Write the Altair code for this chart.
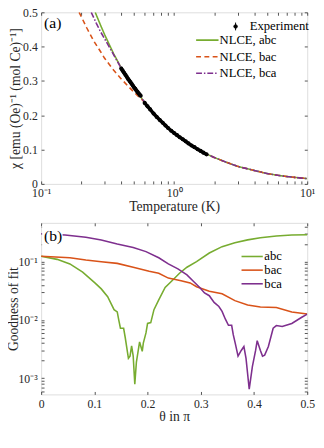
import altair as alt
import pandas as pd

# ---------------- Panel (a) data ----------------
tail_T = [0.6, 0.7, 0.8, 0.9, 1.0, 1.2, 1.5, 1.8, 2.0, 2.5, 3.0, 4.0, 5.0, 6.0, 7.0, 8.0, 10.0]
tail_chi = [0.238, 0.207, 0.183, 0.164, 0.149, 0.125, 0.101, 0.085, 0.077, 0.062, 0.051, 0.039, 0.030, 0.025, 0.0215, 0.019, 0.0153]

abc_T = [0.255, 0.28, 0.30, 0.35, 0.40, 0.45, 0.50]
abc_chi = [0.50, 0.462, 0.435, 0.380, 0.338, 0.305, 0.278]
bac_T = [0.193, 0.22, 0.25, 0.28, 0.30, 0.35, 0.40, 0.45, 0.50]
bac_chi = [0.50, 0.455, 0.415, 0.385, 0.366, 0.332, 0.306, 0.285, 0.267]
bca_T = [0.238, 0.26, 0.28, 0.30, 0.35, 0.40, 0.45, 0.50]
bca_chi = [0.50, 0.468, 0.443, 0.423, 0.377, 0.337, 0.305, 0.278]

exp_T = [0.40, 0.41, 0.42, 0.43, 0.44, 0.45, 0.46, 0.47, 0.48, 0.49, 0.50, 0.51, 0.52, 0.53,
         0.54, 0.55, 0.56, 0.60, 0.63, 0.66, 0.70, 0.74, 0.78, 0.82, 0.86, 0.90, 0.95, 1.00,
         1.05, 1.10, 1.16, 1.22, 1.28, 1.35, 1.42, 1.50, 1.58, 1.66, 1.75]
exp_chi = [0.336, 0.330, 0.324, 0.318, 0.312, 0.306, 0.301, 0.296, 0.291, 0.286, 0.281, 0.277,
           0.272, 0.268, 0.264, 0.260, 0.257, 0.236, 0.226, 0.217, 0.205, 0.195, 0.186, 0.178,
           0.170, 0.163, 0.155, 0.148, 0.142, 0.136, 0.130, 0.124, 0.118, 0.112, 0.107, 0.101,
           0.096, 0.091, 0.086]
exp_err = [0.007, 0.007, 0.007, 0.007, 0.007, 0.006, 0.006, 0.006, 0.006, 0.006, 0.006, 0.006,
           0.006, 0.006, 0.006, 0.006, 0.006, 0.005, 0.005, 0.005, 0.005, 0.005, 0.005, 0.004,
           0.004, 0.004, 0.004, 0.004, 0.004, 0.004, 0.004, 0.004, 0.004, 0.003, 0.003, 0.003,
           0.003, 0.003, 0.003]
exp_run = ["low"] * 17 + ["high"] * 22

series_a = ["NLCE, abc", "NLCE, bac", "NLCE, bca"]

# ---------------- Panel (b) data ----------------
abc_theta = [0.0, 0.03, 0.054, 0.078, 0.101, 0.113, 0.125, 0.137, 0.143, 0.146, 0.149, 0.155,
             0.158, 0.164, 0.167, 0.170, 0.173, 0.176, 0.179, 0.185, 0.190, 0.192, 0.197, 0.200,
             0.206, 0.212, 0.221, 0.233, 0.245, 0.260, 0.274, 0.292, 0.316, 0.340, 0.364, 0.388,
             0.412, 0.442, 0.471, 0.50]
abc_fit = [0.123, 0.109, 0.091, 0.066, 0.043, 0.034, 0.025, 0.015, 0.0137, 0.0098, 0.0072, 0.0072,
           0.005, 0.0022, 0.0024, 0.0036, 0.0024, 0.00079, 0.0019, 0.0042, 0.0029, 0.004, 0.006,
           0.0087, 0.009, 0.015, 0.022, 0.036, 0.046, 0.063, 0.080, 0.100, 0.140, 0.180, 0.210,
           0.235, 0.255, 0.275, 0.285, 0.287]
bac_theta = [0.0, 0.054, 0.084, 0.113, 0.143, 0.173, 0.203, 0.221, 0.239, 0.263, 0.280, 0.292,
             0.316, 0.340, 0.364, 0.388, 0.412, 0.442, 0.471, 0.50]
bac_fit = [0.123, 0.116, 0.106, 0.099, 0.093, 0.080, 0.068, 0.063, 0.052, 0.047, 0.043, 0.037,
           0.031, 0.028, 0.0214, 0.018, 0.0167, 0.0163, 0.0137, 0.0126]
bca_theta = [0.0, 0.045, 0.084, 0.113, 0.143, 0.173, 0.197, 0.221, 0.239, 0.257, 0.274, 0.286,
             0.298, 0.307, 0.316, 0.325, 0.334, 0.340, 0.346, 0.352, 0.358, 0.361, 0.365, 0.370,
             0.376, 0.381, 0.385, 0.391, 0.397, 0.403, 0.406, 0.412, 0.416, 0.420, 0.427, 0.436,
             0.442, 0.453, 0.471, 0.489, 0.50]
bca_fit = [0.30, 0.285, 0.26, 0.235, 0.20, 0.174, 0.148, 0.116, 0.091, 0.075, 0.059, 0.046,
           0.036, 0.029, 0.026, 0.020, 0.017, 0.014, 0.0104, 0.0081, 0.0081, 0.0056, 0.0039,
           0.0024, 0.003, 0.0035, 0.0022, 0.00065, 0.0016, 0.003, 0.0044, 0.003, 0.0024, 0.0025,
           0.0035, 0.0072, 0.008, 0.0077, 0.0087, 0.011, 0.0126]

series_b = ["abc", "bac", "bca"]

colors = ["#77AC30", "#D95319", "#7E2F8E"]
FONT = "Liberation Serif"
INK = "#262626"
W, H1, H2 = 273, 176, 176

x_ticks_a = [0.1, 0.2, 0.3, 0.4, 0.5, 0.6, 0.7, 0.8, 0.9, 1, 2, 3, 4, 5, 6, 7, 8, 9, 10]
y_ticks_a = [0, 0.1, 0.2, 0.3, 0.4, 0.5]
x_ticks_b = [0, 0.1, 0.2, 0.3, 0.4, 0.5]
y_ticks_b = [0.0006, 0.0007, 0.0008, 0.0009, 0.001, 0.002, 0.003, 0.004, 0.005, 0.006, 0.007,
             0.008, 0.009, 0.01, 0.02, 0.03, 0.04, 0.05, 0.06, 0.07, 0.08, 0.09, 0.1, 0.2, 0.3, 0.4]

# ---------------- build tables ----------------
rows = []
for name, Ts, cs in [(series_a[0], abc_T, abc_chi), (series_a[1], bac_T, bac_chi), (series_a[2], bca_T, bca_chi)]:
    for t, c in zip(Ts + tail_T, cs + tail_chi):
        rows.append({"T": t, "chi": c, "series": name})
df_a = pd.DataFrame(rows)
df_exp = pd.DataFrame({"T": exp_T, "chi": exp_chi, "err": exp_err, "run": exp_run, "src": "Experiment"})

rows = []
for name, th, fv in [(series_b[0], abc_theta, abc_fit), (series_b[1], bac_theta, bac_fit), (series_b[2], bca_theta, bca_fit)]:
    for t, f in zip(th, fv):
        rows.append({"theta": t, "fit": f, "series2": name})
df_b = pd.DataFrame(rows)

STROKE_SYM = "M-2.3,0H2.3"
ERR_SYM = "M0,-1V1M-0.45,0A0.45,0.45,0,1,1,0.45,0A0.45,0.45,0,1,1,-0.45,0"


def inward(orient, values, label_expr=None, title=None, labels=True, title_pad=0):
    kw = dict(orient=orient, values=values, tickSize=3, offset=-3, domain=False,
              tickColor=INK, tickWidth=0.8, grid=False, labels=labels, labelFlush=False,
              labelOverlap=False, labelFont=FONT, labelFontSize=12, labelColor=INK,
              labelPadding=4, titleFont=FONT, titleFontSize=14, titleFontWeight="normal",
              titleColor=INK, titlePadding=title_pad, minExtent=0)
    if label_expr is not None:
        kw["labelExpr"] = label_expr
    kw["title"] = title
    return alt.Axis(**kw)


def line_legend(x, y, size, font, rowpad):
    return alt.Legend(orient="none", legendX=x, legendY=y, title=None,
                      symbolType=STROKE_SYM, symbolSize=size, symbolStrokeWidth=1.6,
                      labelFont=FONT, labelFontSize=font, labelColor="black",
                      labelOffset=6, rowPadding=rowpad, padding=0)


xs_a = alt.Scale(type="log", domain=[0.1, 10], nice=False)
ys_a = alt.Scale(domain=[0, 0.5], nice=False)
xlab_a = "datum.value == 0.1 ? '10⁻¹' : datum.value == 1 ? '10⁰' : datum.value == 10 ? '10¹' : ''"
ylab_a = "datum.value == 0 ? '0' : format(datum.value, '.1f')"

lines_a = alt.Chart(df_a).mark_line(clip=True, strokeWidth=1.6).encode(
    x=alt.X("T:Q", scale=xs_a, axis=inward("bottom", x_ticks_a, xlab_a, "Temperature (K)", title_pad=1)),
    y=alt.Y("chi:Q", scale=ys_a, axis=inward("left", y_ticks_a, ylab_a, "χ [emu (Oe)⁻¹ (mol Ce)⁻¹]", title_pad=0)),
    color=alt.Color("series:N", scale=alt.Scale(domain=series_a, range=colors),
                    legend=line_legend(164, 22, 100, 13, 3)),
    strokeDash=alt.StrokeDash("series:N", scale=alt.Scale(domain=series_a, range=[[1, 0], [5, 3.5], [6, 2, 1.5, 2]]),
                              legend=line_legend(164, 22, 100, 13, 3)),
    order=alt.Order("T:Q"),
)
frame_a = alt.Chart(df_exp).mark_point(opacity=0).encode(
    x=alt.X("T:Q", scale=xs_a, axis=inward("top", x_ticks_a, labels=False)),
    y=alt.Y("chi:Q", scale=ys_a, axis=inward("right", y_ticks_a, labels=False)),
)
errs = alt.Chart(df_exp).transform_calculate(
    lo="datum.chi - datum.err", hi="datum.chi + datum.err"
).mark_rule(color="#8c8c8c", strokeWidth=2).encode(
    x=alt.X("T:Q", scale=xs_a, axis=None),
    y=alt.Y("lo:Q", scale=ys_a, axis=None),
    y2="hi:Q",
)
band = alt.Chart(df_exp).mark_line(color="black", strokeWidth=3.5, clip=True).encode(
    x=alt.X("T:Q", scale=xs_a, axis=None),
    y=alt.Y("chi:Q", scale=ys_a, axis=None),
    detail="run:N",
    order=alt.Order("T:Q"),
)
pts = alt.Chart(df_exp).mark_circle(size=18, opacity=1).encode(
    x=alt.X("T:Q", scale=xs_a, axis=None),
    y=alt.Y("chi:Q", scale=ys_a, axis=None),
    fill=alt.Fill("src:N", scale=alt.Scale(domain=["Experiment"], range=["black"]),
                  legend=alt.Legend(orient="none", legendX=193, legendY=8, title=None,
                                    symbolType=ERR_SYM, symbolSize=64, symbolFillColor="black",
                                    symbolStrokeColor="black", symbolStrokeWidth=1,
                                    labelFont=FONT, labelFontSize=13, labelColor="black",
                                    labelOffset=8, padding=0)),
)
lab_a = alt.Chart(pd.DataFrame({"t": ["(a)"]})).mark_text(
    font=FONT, fontSize=16, align="left", baseline="middle", color="black"
).encode(text="t:N", x=alt.value(3), y=alt.value(11))

panel_a = alt.layer(lines_a, frame_a, errs, band, pts, lab_a).resolve_axis(
    x="independent", y="independent").properties(width=W, height=H1)

# ---------------- Panel (b) ----------------
xs_b = alt.Scale(domain=[0, 0.5], nice=False)
ys_b = alt.Scale(type="log", domain=[0.00053, 0.46], nice=False)
xlab_b = "datum.value == 0 ? '0' : format(datum.value, '.1f')"
ylab_b = "datum.value == 0.1 ? '10⁻¹' : datum.value == 0.01 ? '10⁻²' : datum.value == 0.001 ? '10⁻³' : ''"

lines_b = alt.Chart(df_b).mark_line(clip=True, strokeWidth=1.6).encode(
    x=alt.X("theta:Q", scale=xs_b, axis=inward("bottom", x_ticks_b, xlab_b, "θ in π", title_pad=1)),
    y=alt.Y("fit:Q", scale=ys_b, axis=inward("left", y_ticks_b, ylab_b, "Goodness of fit", title_pad=-2)),
    color=alt.Color("series2:N", scale=alt.Scale(domain=series_b, range=colors),
                    legend=line_legend(210, 28, 90, 13, 0)),
    order=alt.Order("theta:Q"),
)
frame_b = alt.Chart(df_b).mark_point(opacity=0).encode(
    x=alt.X("theta:Q", scale=xs_b, axis=inward("top", x_ticks_b, labels=False)),
    y=alt.Y("fit:Q", scale=ys_b, axis=inward("right", y_ticks_b, labels=False)),
)
box_b = alt.Chart(pd.DataFrame({"t": ["(b)"]})).mark_rect(color="white").encode(
    x=alt.value(1), x2=alt.value(22), y=alt.value(2), y2=alt.value(24))
lab_b = alt.Chart(pd.DataFrame({"t": ["(b)"]})).mark_text(
    font=FONT, fontSize=16, align="left", baseline="middle", color="black"
).encode(text="t:N", x=alt.value(3), y=alt.value(14))

panel_b = alt.layer(lines_b, frame_b, box_b, lab_b).resolve_axis(
    x="independent", y="independent").properties(width=W, height=H2)

chart = alt.vconcat(panel_a, panel_b, spacing=6).resolve_scale(
    color="independent", strokeDash="independent"
).properties(padding={"left": -3, "top": -8, "right": 0, "bottom": -3}).configure_view(
    stroke=INK, strokeWidth=1
).configure(background="white")

chart.save("out.html", embed_options={"renderer": "svg", "actions": False})
